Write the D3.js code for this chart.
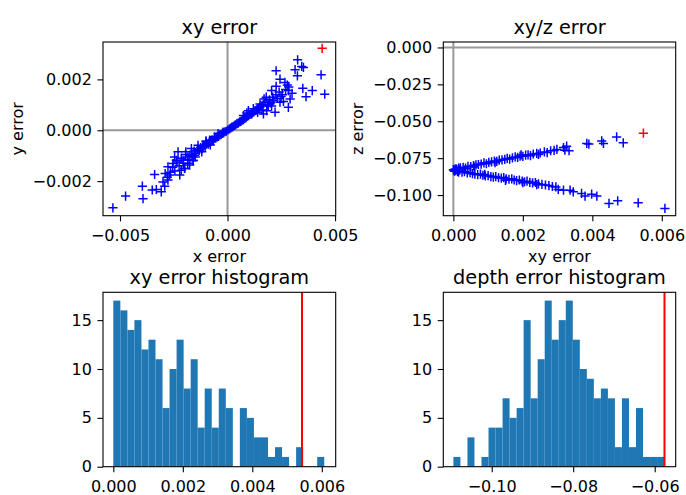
<!DOCTYPE html>
<html lang="en">
<head>
<meta charset="utf-8">
<title>xy / z error</title>
<script src="https://d3js.org/d3.v7.min.js"></script>
<style>
  body { margin: 0; background: #fff; }
  text { font-family: "DejaVu Sans", sans-serif; }
</style>
</head>
<body>
<script>
// ---- data ----
// xy error scatter: [x error, y error]
var xyErr = [
  [0.00326,0.00277],[0.00345,0.00251],[0.00353,0.00247],[0.00314,0.00238],[0.00226,0.00234],
  [0.00325,0.00214],[0.00435,0.00218],[0.00244,0.00201],[0.00267,0.00188],[0.00278,0.00178],
  [0.00226,0.00173],[0.00350,0.00165],[0.00394,0.00156],[0.00452,0.00142],[0.00365,0.00132],
  [0.00283,0.00156],[0.00205,0.00156],[0.00249,0.00133],[0.00291,0.00123],[0.00170,0.00123],
  [0.00210,0.00116],[0.00283,0.00090],[0.00221,0.00071],[0.00190,0.00097],[0.00151,0.00103],
  [0.00143,0.00084],[0.00097,0.00077],[0.00113,0.00064],[0.00074,0.00058],[0.00182,0.00077],
  [0.00167,0.00064],[0.00244,0.00110],[0.00260,0.00113],
  [-0.00533,-0.00305],[-0.00474,-0.00259],[-0.00396,-0.00220],[-0.00393,-0.00269],[-0.00339,-0.00174],
  [-0.00350,-0.00235],[-0.00331,-0.00233],[-0.00308,-0.00242],[-0.00292,-0.00220],[-0.00300,-0.00203],
  [-0.00277,-0.00196],[-0.00269,-0.00176],[-0.00277,-0.00144],[-0.00253,-0.00131],[-0.00222,-0.00176],
  [-0.00215,-0.00157],[-0.00207,-0.00118],[-0.00194,-0.00085],[-0.00184,-0.00105],[-0.00168,-0.00072],
  [-0.00176,-0.00137],[-0.00238,-0.00118],[-0.00153,-0.00098],[-0.00137,-0.00059],[-0.00114,-0.00065],
  [-0.00099,-0.00046],[-0.00083,-0.00039],[-0.00060,-0.00026],[-0.00044,-0.00013],[-0.00021,-0.00007],
  [-0.00230,-0.00085],[-0.00246,-0.00105],[-0.00160,-0.00118],[-0.00199,-0.00150],
  [-0.00165,-0.00095],[-0.00155,-0.00082],[-0.00148,-0.00090],[-0.00140,-0.00075],[-0.00132,-0.00080],
  [-0.00125,-0.00068],[-0.00118,-0.00072],[-0.00110,-0.00060],[-0.00104,-0.00064],[-0.00098,-0.00052],
  [-0.00090,-0.00055],[-0.00085,-0.00046],[-0.00078,-0.00044],[-0.00072,-0.00038],[-0.00066,-0.00040],
  [-0.00060,-0.00032],[-0.00054,-0.00030],[-0.00048,-0.00025],[-0.00042,-0.00024],[-0.00036,-0.00018],
  [-0.00030,-0.00017],[-0.00024,-0.00012],[-0.00018,-0.00010],[-0.00012,-0.00006],[-0.00006,-0.00004],
  [0.00002,0.00001],[0.00008,0.00005],[0.00014,0.00008],[0.00020,0.00012],[0.00026,0.00014],
  [0.00032,0.00019],[0.00038,0.00021],[0.00044,0.00026],[0.00050,0.00028],[0.00056,0.00033],
  [0.00062,0.00035],[0.00068,0.00040],[0.00074,0.00042],[0.00080,0.00047],[0.00086,0.00050],
  [0.00092,0.00055],[0.00098,0.00057],[0.00104,0.00062],[0.00110,0.00064],[0.00116,0.00069],
  [0.00122,0.00072],[0.00128,0.00077],[0.00135,0.00080],[0.00142,0.00086],[0.00150,0.00090],
  [0.00158,0.00095],[0.00165,0.00100],[0.00120,0.00085],[0.00140,0.00070],[-0.00120,-0.00085],
  [-0.00100,-0.00042],[0.00090,0.00068],[0.00160,0.00080],[-0.00150,-0.00105],[-0.00080,-0.00058],
  [0.00175,0.00110],[0.00185,0.00100],[0.00195,0.00120],[0.00200,0.00108],[0.00210,0.00130],
  [0.00215,0.00118],[0.00225,0.00140],[0.00232,0.00125],[0.00240,0.00150],[0.00255,0.00140],
  [0.00270,0.00160],[0.00285,0.00170],[0.00300,0.00145],[0.00180,0.00130],[0.00205,0.00095],
  [-0.00175,-0.00100],[-0.00185,-0.00115],[-0.00195,-0.00095],[-0.00205,-0.00130],[-0.00215,-0.00110],
  [-0.00225,-0.00140],[-0.00235,-0.00125],[-0.00245,-0.00160],[-0.00255,-0.00145],[-0.00265,-0.00165],
  [-0.00280,-0.00185],[-0.00290,-0.00170],[-0.00185,-0.00130],[-0.00160,-0.00120],[-0.00200,-0.00150]
];
var xyWorst = [0.00440, 0.00322];

// xy/z error scatter: [xy error, z error]
var xyzErr = [
  // upper branch
  [0.00005,-0.0825],[0.00010,-0.0830],[0.00015,-0.0818],[0.00020,-0.0822],[0.00028,-0.0812],
  [0.00035,-0.0818],[0.00042,-0.0805],[0.00050,-0.0808],[0.00058,-0.0800],[0.00065,-0.0796],
  [0.00072,-0.0793],[0.00080,-0.0790],[0.00088,-0.0782],[0.00095,-0.0788],[0.00102,-0.0778],
  [0.00110,-0.0775],[0.00118,-0.0770],[0.00125,-0.0772],[0.00132,-0.0764],[0.00140,-0.0762],
  [0.00148,-0.0758],[0.00155,-0.0752],[0.00162,-0.0756],[0.00170,-0.0748],[0.00178,-0.0742],
  [0.00185,-0.0745],[0.00192,-0.0736],[0.00200,-0.0738],[0.00208,-0.0730],[0.00215,-0.0728],
  [0.00222,-0.0733],[0.00230,-0.0722],[0.00240,-0.0718],[0.00250,-0.0715],[0.00262,-0.0708],
  [0.00270,-0.0712],[0.00280,-0.0700],[0.00290,-0.0698],[0.00245,-0.0725],[0.00195,-0.0728],
  [0.00120,-0.0780],[0.00060,-0.0810],
  [0.00298,-0.0691],[0.00317,-0.0678],[0.00326,-0.0669],[0.00333,-0.0700],[0.00321,-0.0696],
  [0.00384,-0.0650],[0.00390,-0.0655],[0.00427,-0.0633],[0.00432,-0.0650],[0.00470,-0.0606],
  [0.00489,-0.0646],
  // lower branch
  [0.00005,-0.0835],[0.00012,-0.0840],[0.00018,-0.0832],[0.00025,-0.0845],[0.00032,-0.0842],
  [0.00040,-0.0850],[0.00048,-0.0848],[0.00055,-0.0855],[0.00062,-0.0858],[0.00070,-0.0862],
  [0.00078,-0.0858],[0.00085,-0.0866],[0.00092,-0.0870],[0.00100,-0.0868],[0.00108,-0.0875],
  [0.00115,-0.0878],[0.00122,-0.0875],[0.00130,-0.0883],[0.00138,-0.0886],[0.00145,-0.0882],
  [0.00152,-0.0890],[0.00160,-0.0893],[0.00168,-0.0890],[0.00175,-0.0898],[0.00182,-0.0902],
  [0.00190,-0.0898],[0.00198,-0.0906],[0.00205,-0.0910],[0.00212,-0.0906],[0.00220,-0.0914],
  [0.00228,-0.0918],[0.00236,-0.0915],[0.00245,-0.0924],[0.00255,-0.0928],[0.00265,-0.0932],
  [0.00275,-0.0936],[0.00285,-0.0942],[0.00295,-0.0945],[0.00150,-0.0900],[0.00090,-0.0860],
  [0.00200,-0.0916],[0.00240,-0.0930],
  [0.00302,-0.0962],[0.00317,-0.0967],[0.00336,-0.0967],[0.00345,-0.0978],[0.00369,-0.0989],
  [0.00379,-0.1007],[0.00398,-0.0994],[0.00413,-0.1007],[0.00448,-0.1057],[0.00473,-0.1039],
  [0.00532,-0.1053],[0.00609,-0.1091],
  // apex
  [0.00000,-0.0828],[0.00002,-0.0832],[0.00008,-0.0822],[0.00003,-0.0838],[0.00015,-0.0845],
  [0.00020,-0.0815]
];
var xyzWorst = [0.00547, -0.0581];

// histograms (30 bins each)
var xyHistCounts = [17,16,14,15,12,13,11,6,10,13,8,11,4,8,4,8,6,0,6,5,3,3,1,2,1,0,2,0,0,1];
var xyHistRange = [0, 0.00607];
var xyLimit = 0.00543;

var depthHistCounts = [1,0,3,0,1,4,4,7,5,6,15,7,11,17,13,15,17,13,10,9,7,8,7,2,7,2,6,1,1,1];
var depthHistRange = [-0.1094, -0.0577];
var depthLimit = -0.0576;

// ---- drawing ----
var width = 686,
    height = 495;

var blue = "#0000ff",
    red = "#ff0000",
    barBlue = "#1f77b4",
    zeroGray = "#999999";

var tickFont = "16px",
    titleFont = "19.3px";

var svg = d3.select("body").append("svg")
    .attr("width", width)
    .attr("height", height);

var clipId = 0;

function makePanel(box, xDomain, yDomain) {
  var x = d3.scaleLinear().domain(xDomain).range([box.left, box.right]);
  var y = d3.scaleLinear().domain(yDomain).range([box.bottom, box.top]);
  var id = "clip" + (clipId++);
  svg.append("clipPath").attr("id", id)
    .append("rect")
      .attr("x", box.left).attr("y", box.top)
      .attr("width", box.right - box.left)
      .attr("height", box.bottom - box.top);
  var plot = svg.append("g").attr("clip-path", "url(#" + id + ")");
  return { box: box, x: x, y: y, plot: plot };
}

function finishPanel(p, opt) {
  var box = p.box;
  var xa = svg.append("g")
      .attr("transform", "translate(0," + box.bottom + ")")
      .call(d3.axisBottom(p.x).tickValues(opt.xTicks).tickFormat(opt.xFormat)
        .tickSize(5.6).tickPadding(8.5).tickSizeOuter(0));
  var ya = svg.append("g")
      .attr("transform", "translate(" + box.left + ",0)")
      .call(d3.axisLeft(p.y).tickValues(opt.yTicks).tickFormat(opt.yFormat)
        .tickSize(5.6).tickPadding(5.6).tickSizeOuter(0));
  [xa, ya].forEach(function(a) {
    a.select(".domain").remove();
    a.selectAll("line").attr("stroke", "#000").attr("stroke-width", 1.1);
    a.selectAll("text")
      .attr("fill", "#000")
      .style("font-family", "'DejaVu Sans', sans-serif")
      .style("font-size", tickFont);
  });

  svg.append("rect")
      .attr("x", box.left).attr("y", box.top)
      .attr("width", box.right - box.left)
      .attr("height", box.bottom - box.top)
      .attr("fill", "none")
      .attr("stroke", "#000")
      .attr("stroke-width", 1.1);

  svg.append("text")
      .attr("x", (box.left + box.right) / 2)
      .attr("y", box.top - 8.5)
      .attr("text-anchor", "middle")
      .style("font-size", titleFont)
      .text(opt.title);

  if (opt.xLabel) {
    svg.append("text")
        .attr("x", (box.left + box.right) / 2)
        .attr("y", box.bottom + 46)
        .attr("text-anchor", "middle")
        .style("font-size", tickFont)
        .text(opt.xLabel);
  }
  if (opt.yLabel) {
    var lx = box.left - 80.5,
        ly = (box.top + box.bottom) / 2;
    svg.append("text")
        .attr("transform", "translate(" + lx + "," + ly + ") rotate(-90)")
        .attr("text-anchor", "middle")
        .style("font-size", tickFont)
        .text(opt.yLabel);
  }
}

function plusMarks(p, pts, color) {
  p.plot.append("g").selectAll("path")
    .data(pts)
    .enter().append("path")
      .attr("transform", function(d) { return "translate(" + p.x(d[0]) + "," + p.y(d[1]) + ")"; })
      .attr("d", "M-4.6,0H4.6M0,-4.6V4.6")
      .attr("stroke", color)
      .attr("stroke-width", 1.5)
      .attr("fill", "none");
}

function zeroLines(p) {
  p.plot.append("line")
      .attr("x1", p.box.left).attr("x2", p.box.right)
      .attr("y1", p.y(0)).attr("y2", p.y(0))
      .attr("stroke", zeroGray).attr("stroke-width", 2);
  p.plot.append("line")
      .attr("x1", p.x(0)).attr("x2", p.x(0))
      .attr("y1", p.box.top).attr("y2", p.box.bottom)
      .attr("stroke", zeroGray).attr("stroke-width", 2);
}

function histBars(p, counts, range, limit) {
  var n = counts.length,
      w = (range[1] - range[0]) / n;
  var bins = counts.map(function(c, i) {
    return { x0: range[0] + i * w, x1: range[0] + (i + 1) * w, c: c };
  });
  p.plot.append("g").selectAll("rect")
    .data(bins.filter(function(b) { return b.c > 0; }))
    .enter().append("rect")
      .attr("x", function(d) { return p.x(d.x0); })
      .attr("width", function(d) { return p.x(d.x1) - p.x(d.x0); })
      .attr("y", function(d) { return p.y(d.c); })
      .attr("height", function(d) { return p.y(0) - p.y(d.c); })
      .attr("fill", barBlue);
  p.plot.append("line")
      .attr("x1", p.x(limit)).attr("x2", p.x(limit))
      .attr("y1", p.box.top).attr("y2", p.box.bottom)
      .attr("stroke", red).attr("stroke-width", 2);
}

var fmt3 = d3.format(".3f"),
    fmt2 = d3.format(".2f"),
    fmtInt = d3.format("d");

// xy error
var p1 = makePanel({ left: 103, right: 335.7, top: 42, bottom: 215.7 },
                   [-0.00579, 0.00503], [-0.00336, 0.00347]);
zeroLines(p1);
plusMarks(p1, xyErr, blue);
plusMarks(p1, [xyWorst], red);
finishPanel(p1, { xTicks: [-0.005, 0, 0.005], yTicks: [-0.002, 0, 0.002],
                  xFormat: fmt3, yFormat: fmt3,
                  title: "xy error", xLabel: "x error", yLabel: "y error" });

// xy/z error
var p2 = makePanel({ left: 443.3, right: 675.7, top: 42, bottom: 215.7 },
                   [-0.00029, 0.0064], [-0.114, 0.0037]);
zeroLines(p2);
plusMarks(p2, xyzErr, blue);
plusMarks(p2, [xyzWorst], red);
finishPanel(p2, { xTicks: [0, 0.002, 0.004, 0.006], yTicks: [0, -0.025, -0.05, -0.075, -0.1],
                  xFormat: fmt3, yFormat: fmt3,
                  title: "xy/z error", xLabel: "xy error", yLabel: "z error" });

// xy error histogram
var p3 = makePanel({ left: 103, right: 335.7, top: 292.3, bottom: 466.7 },
                   [-0.000297, 0.0064], [0, 17.85]);
histBars(p3, xyHistCounts, xyHistRange, xyLimit);
finishPanel(p3, { xTicks: [0, 0.002, 0.004, 0.006], yTicks: [0, 5, 10, 15],
                  xFormat: fmt3, yFormat: fmtInt,
                  title: "xy error histogram" });

// depth error histogram
var p4 = makePanel({ left: 443.3, right: 675.7, top: 292.3, bottom: 466.7 },
                   [-0.11188, -0.05485], [0, 17.85]);
histBars(p4, depthHistCounts, depthHistRange, depthLimit);
finishPanel(p4, { xTicks: [-0.10, -0.08, -0.06], yTicks: [0, 5, 10, 15],
                  xFormat: fmt2, yFormat: fmtInt,
                  title: "depth error histogram" });
</script>
</body>
</html>
